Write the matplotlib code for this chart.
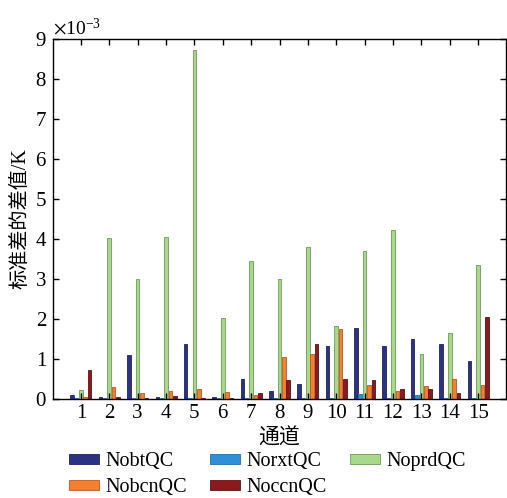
import matplotlib
matplotlib.use("Agg")
import matplotlib.pyplot as plt
import numpy as np
from matplotlib.ticker import ScalarFormatter

channels = list(range(1, 16))
series_names = ["NobtQC", "NorxtQC", "NoprdQC", "NobcnQC", "NoccnQC"]
NobtQC  = [0.10, 0.03, 1.09, 0.05, 1.36, 0.05, 0.49, 0.18, 0.37, 1.32, 1.77, 1.31, 1.48, 1.36, 0.94]
NorxtQC = [0.01, 0.01, 0.01, 0.01, 0.01, 0.01, 0.01, 0.01, 0.01, 0.02, 0.11, 0.02, 0.09, 0.02, 0.02]
NoprdQC = [0.22, 4.02, 3.00, 4.05, 8.72, 2.02, 3.43, 2.98, 3.80, 1.82, 3.68, 4.22, 1.12, 1.63, 3.35]
NobcnQC = [0.05, 0.29, 0.15, 0.20, 0.23, 0.16, 0.09, 1.03, 1.12, 1.73, 0.33, 0.18, 0.31, 0.49, 0.35]
NoccnQC = [0.72, 0.05, 0.01, 0.06, 0.01, 0.01, 0.15, 0.47, 1.36, 0.49, 0.47, 0.24, 0.25, 0.14, 2.03]
scale = 1e-3
colors = ["#2B3284", "#2F8FD8", "#A8D98A", "#F47F30", "#8B1A1F"]
edges = ["#1E2460", "#1F6FA8", "#6F9A5A", "#B85A1A", "#5E1014"]

plt.rcParams['font.family'] = ['Liberation Serif', 'Noto Sans CJK SC']
plt.rcParams['mathtext.fontset'] = 'stix'

fig = plt.figure(figsize=(5.07, 4.98), dpi=100)
ax = fig.add_axes([0.1036, 0.1994, 0.8954, 0.7229])

data = [NobtQC, NorxtQC, NoprdQC, NobcnQC, NoccnQC]
x = np.array(channels, dtype=float)
step = 0.154
bw = 0.125
handles = []
for i, (name, vals) in enumerate(zip(series_names, data)):
    h = ax.bar(x + (i - 2) * step, np.array(vals) * scale, width=bw,
               color=colors[i], edgecolor=edges[i], linewidth=0.6, label=name)
    handles.append(h)

ax.set_xlim(0, 16)
ax.set_ylim(0, 9e-3)
ax.set_xticks(channels)
ax.set_xticklabels([str(c) for c in channels])
ax.set_yticks(np.arange(0, 10) * 1e-3)
fmt = ScalarFormatter(useMathText=True)
fmt.set_powerlimits((-3, -3))
ax.yaxis.set_major_formatter(fmt)
ax.yaxis.get_offset_text().set_fontsize(14)

ax.tick_params(direction='in', length=4, width=1, top=True, right=True,
               labelsize=15, pad=4)
for s in ax.spines.values():
    s.set_linewidth(1.0)

ax.set_xlabel("通道", fontsize=15, labelpad=4)
ax.set_ylabel("标准差的差值/K", fontsize=14.5, labelpad=3)

order = [0, 3, 1, 4, 2]
leg = fig.legend([handles[k] for k in order], [series_names[k] for k in order],
                 ncol=3, loc='lower left', bbox_to_anchor=(69 / 507, 1 / 498),
                 frameon=False, fontsize=14.5, handlelength=1.5, handleheight=0.4,
                 handletextpad=0.3, columnspacing=1.15, labelspacing=0.35,
                 borderpad=0, borderaxespad=0)

fig.savefig("out.png", dpi=100)
